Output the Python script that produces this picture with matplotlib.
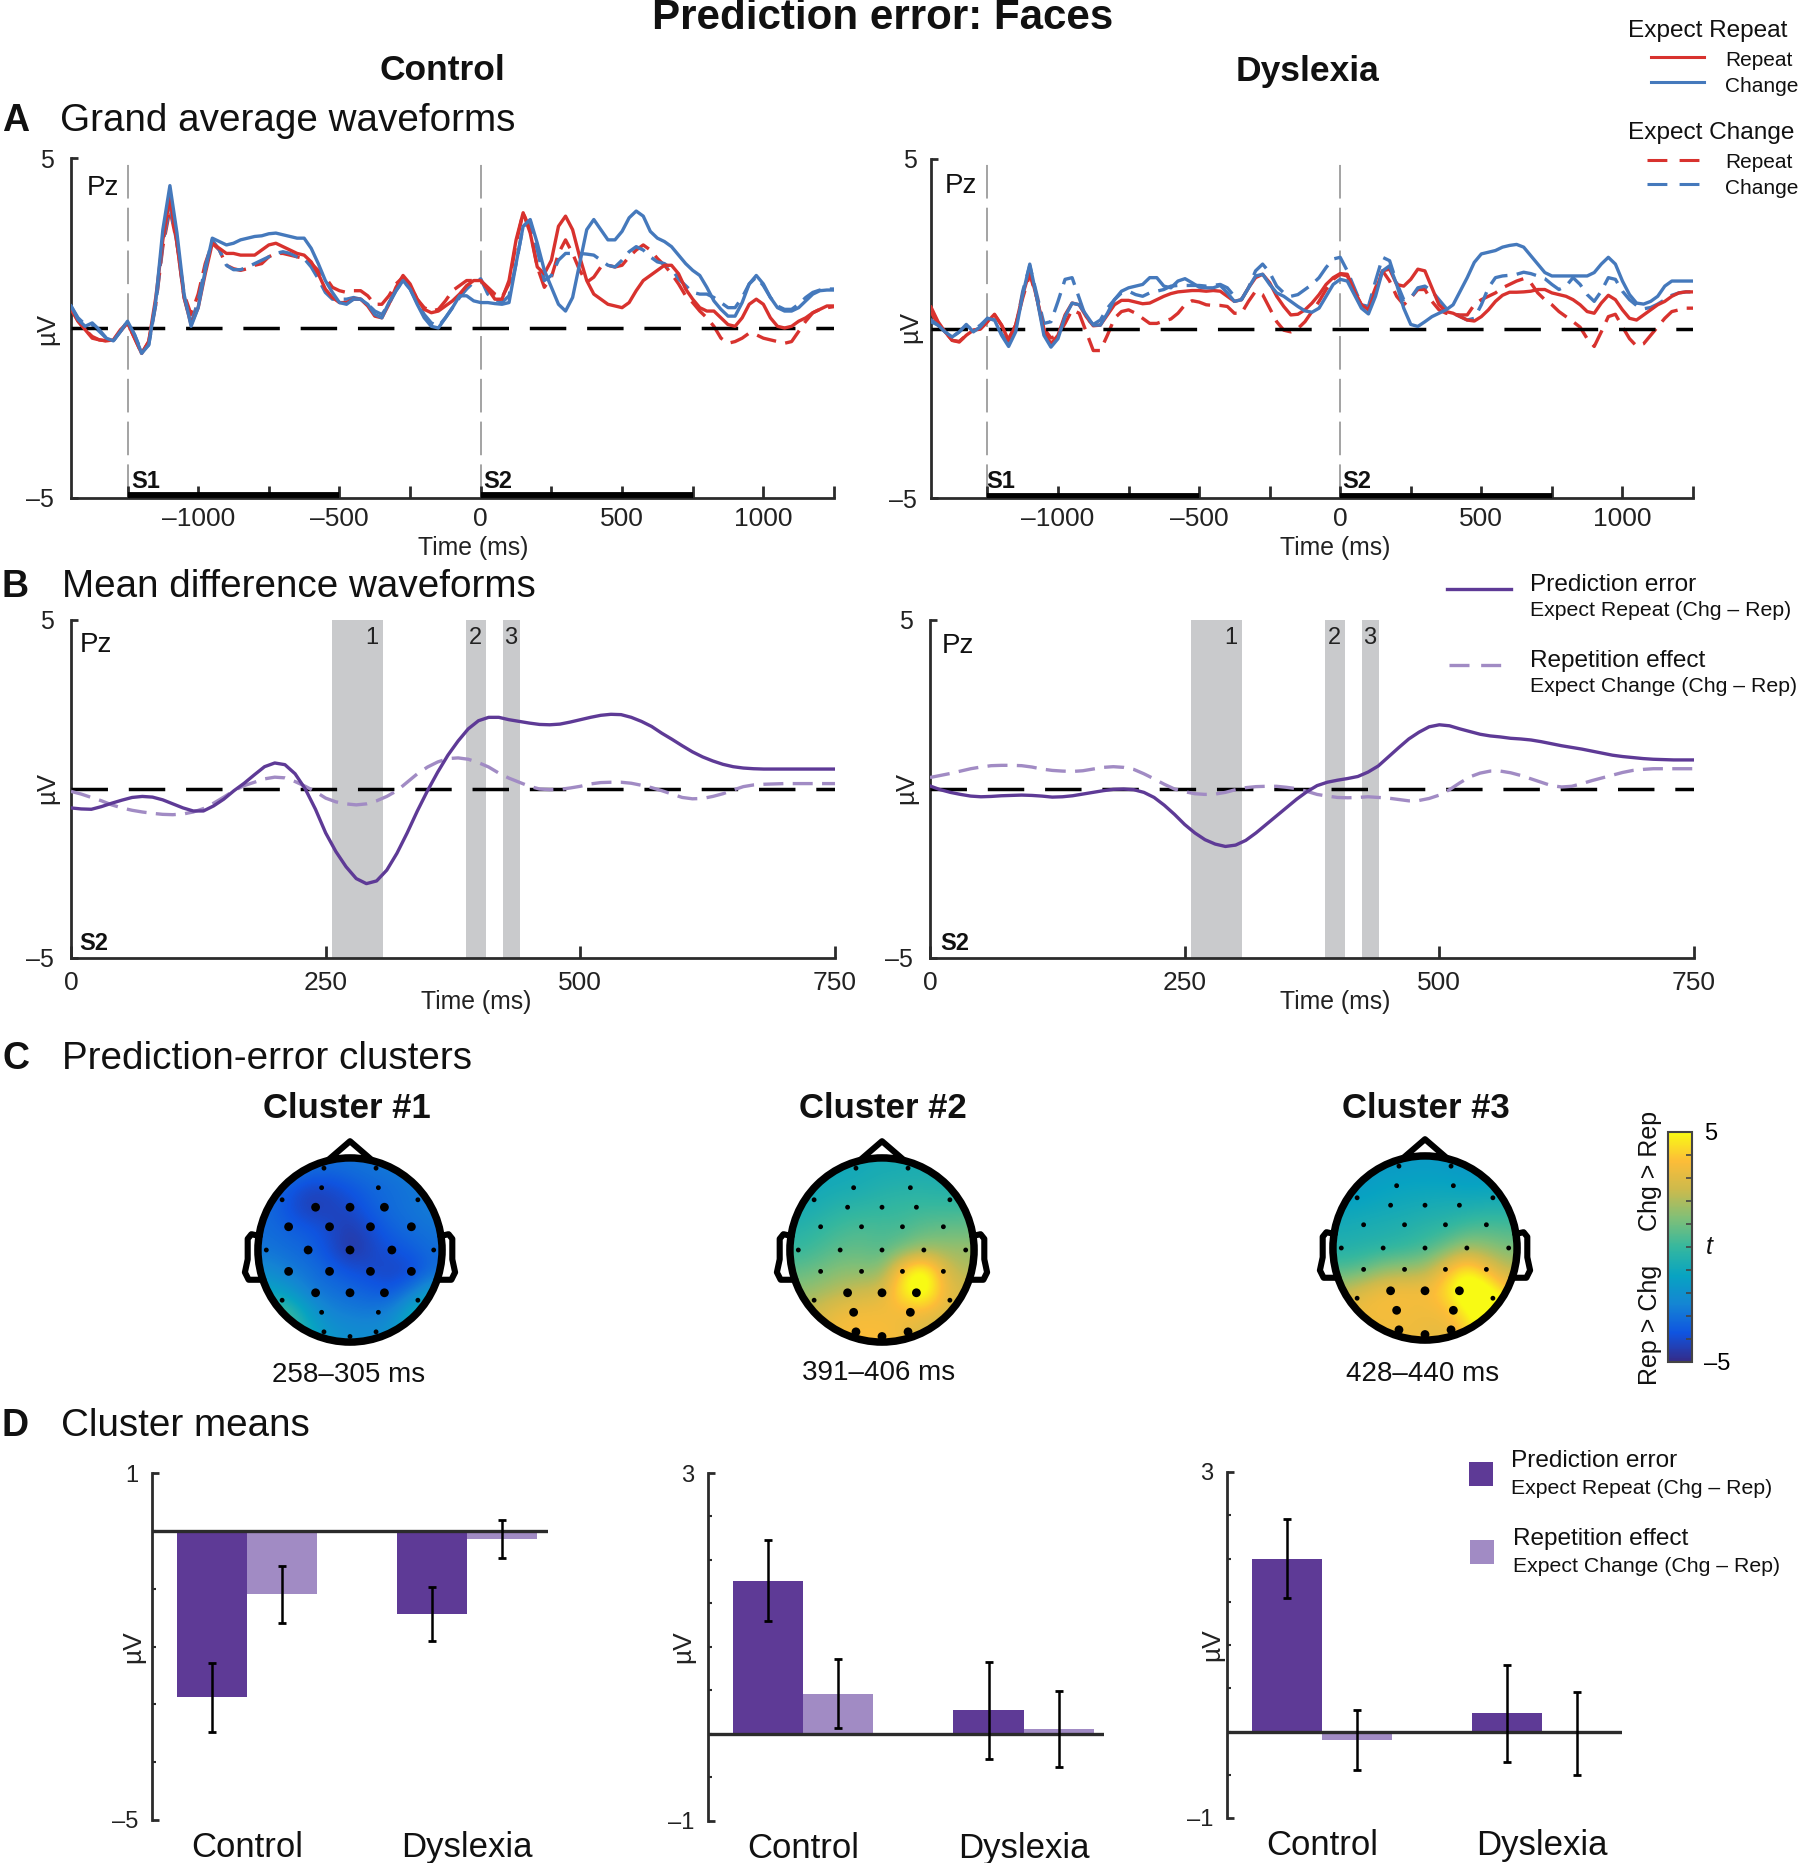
import numpy as np
import matplotlib
matplotlib.use("Agg")
import matplotlib.pyplot as plt
from matplotlib.colors import LinearSegmentedColormap
from matplotlib.patches import Circle, Rectangle
from matplotlib.cm import ScalarMappable
from matplotlib.colors import Normalize
from matplotlib.ticker import MultipleLocator

plt.rcParams['font.family'] = ['Liberation Sans', 'DejaVu Sans']
W, H = 1800, 1863

# ------------------ DATA ------------------
time_a = np.arange(-1450, 1251, 25)
ctl_exp_rep_rep = [
 0.6,0.2,-0.05,-0.3,-0.35,-0.38,-0.35,-0.05,0.15,-0.3,
 -0.75,-0.4,0.9,2.6,3.85,2.5,0.9,0.1,0.6,1.6,
 2.5,2.35,2.2,2.2,2.15,2.15,2.15,2.3,2.45,2.5,
 2.4,2.3,2.2,2.15,1.95,1.6,1.15,0.9,0.75,0.75,
 0.85,0.85,0.65,0.35,0.3,0.7,1.2,1.55,1.3,0.85,
 0.55,0.45,0.5,0.65,0.8,1.0,1.25,1.4,1.4,1.15,
 0.85,0.85,1.4,2.6,3.4,2.8,1.8,1.6,2.0,3.0,
 3.3,2.9,2.1,1.4,1.0,0.85,0.7,0.65,0.6,0.75,
 1.1,1.4,1.55,1.7,1.85,1.85,1.6,1.15,0.85,0.6,
 0.5,0.5,0.3,0.1,0.05,0.3,0.7,0.85,0.7,0.3,
 0.05,0,0.05,0.2,0.3,0.45,0.55,0.65,0.65]
ctl_exp_rep_chg = [
 0.65,0.25,0.05,0.15,-0.05,-0.3,-0.38,-0.1,0.2,-0.2,
 -0.75,-0.5,0.8,2.9,4.2,2.8,1.0,0.05,0.6,1.7,
 2.65,2.55,2.45,2.5,2.6,2.65,2.7,2.72,2.78,2.8,
 2.75,2.7,2.65,2.65,2.35,1.9,1.4,1.05,0.75,0.7,
 0.85,0.85,0.7,0.4,0.3,0.75,1.1,1.4,1.15,0.7,
 0.3,0.05,0,0.3,0.6,0.95,0.95,0.8,0.75,0.75,
 0.72,0.7,0.75,1.9,3.0,3.2,2.5,1.7,1.2,0.7,
 0.5,0.9,1.9,2.9,3.2,2.9,2.6,2.6,2.85,3.25,
 3.45,3.3,2.85,2.65,2.55,2.4,2.15,1.9,1.7,1.55,
 1.2,0.8,0.55,0.35,0.35,0.75,1.3,1.55,1.3,0.9,
 0.6,0.5,0.5,0.6,0.8,1.0,1.1,1.12,1.12]
ctl_exp_chg_rep = [
 0.55,0.2,-0.05,-0.25,-0.35,-0.38,-0.35,-0.1,0.15,-0.3,
 -0.75,-0.4,0.7,2.4,3.5,2.5,1.0,0.4,1.0,1.9,
 2.5,2.3,1.85,1.75,1.7,1.75,1.85,1.9,2.1,2.2,
 2.2,2.15,2.1,2.05,1.9,1.7,1.5,1.2,1.1,1.05,
 1.1,1.1,0.95,0.7,0.7,0.95,1.3,1.5,1.25,0.85,
 0.6,0.5,0.55,0.8,1.1,1.25,1.4,1.4,1.4,1.2,
 1.0,0.9,1.3,2.5,3.4,2.9,1.8,1.2,1.5,2.2,
 2.6,2.2,1.7,1.35,1.5,1.8,1.85,1.8,1.85,2.1,
 2.3,2.45,2.3,2.05,1.85,1.6,1.3,0.95,0.75,0.5,
 0.3,0.05,-0.3,-0.45,-0.4,-0.3,-0.15,-0.2,-0.3,-0.35,
 -0.4,-0.45,-0.4,-0.1,0.2,0.45,0.55,0.6,0.63]
ctl_exp_chg_chg = [
 0.65,0.3,0.1,0.1,-0.1,-0.3,-0.38,-0.1,0.2,-0.2,
 -0.7,-0.5,0.7,2.5,3.6,2.5,0.9,0.15,0.8,1.8,
 2.6,2.3,1.85,1.72,1.72,1.8,1.9,2.0,2.1,2.2,
 2.25,2.2,2.1,2.05,1.8,1.45,1.05,0.85,0.85,0.85,
 0.9,0.85,0.7,0.5,0.4,0.7,1.1,1.4,1.15,0.75,
 0.4,0.15,0.05,0.3,0.6,0.9,1.15,1.35,1.45,1.0,
 0.85,0.75,0.95,1.9,3.0,3.15,2.3,1.4,1.55,2.0,
 2.2,2.2,2.2,2.18,2.15,2.0,1.85,1.8,2.0,2.25,
 2.4,2.3,2.1,1.95,1.9,1.75,1.45,1.25,1.05,1.0,
 1.0,0.9,0.75,0.6,0.6,0.9,1.3,1.5,1.25,0.9,
 0.65,0.55,0.55,0.7,0.9,1.05,1.12,1.15,1.15]

dys_exp_rep_rep = [
 0.63,0.2,-0.1,-0.35,-0.4,-0.2,-0.05,-0.02,0.2,0.42,
 0.1,-0.35,0.1,1.0,1.7,0.9,-0.1,-0.45,-0.2,0.4,
 0.75,0.7,0.35,0.08,0.1,0.4,0.7,0.83,0.83,0.78,
 0.73,0.75,0.85,0.95,1.03,1.08,1.1,1.12,1.12,1.1,
 1.12,1.1,0.95,0.8,0.85,1.2,1.5,1.6,1.35,0.95,
 0.65,0.4,0.42,0.55,0.75,1.0,1.3,1.5,1.62,1.6,
 1.1,0.7,0.55,1.1,1.7,1.75,1.3,1.25,1.45,1.75,
 1.7,1.2,0.7,0.5,0.45,0.35,0.25,0.22,0.35,0.55,
 0.8,0.98,1.07,1.07,1.08,1.1,1.15,1.15,1.05,1.0,
 0.95,0.85,0.7,0.5,0.45,0.75,0.98,0.85,0.55,0.3,
 0.25,0.4,0.55,0.7,0.8,0.95,1.05,1.08,1.08]
dys_exp_rep_chg = [
 0.25,0.1,-0.1,-0.25,-0.1,0.12,-0.1,0.05,0.3,0.25,
 -0.2,-0.53,-0.1,1.0,1.9,0.9,-0.2,-0.55,-0.3,0.35,
 0.75,0.7,0.4,0.1,0.1,0.45,0.85,1.1,1.2,1.25,
 1.3,1.5,1.5,1.25,1.2,1.4,1.47,1.35,1.22,1.2,
 1.2,1.27,1.05,0.8,0.85,1.2,1.55,1.6,1.3,1.05,
 0.95,0.8,0.65,0.52,0.48,0.6,0.95,1.3,1.45,1.4,
 1.0,0.6,0.43,0.95,1.7,1.85,1.3,0.6,0.12,0.06,
 0.2,0.35,0.45,0.55,0.7,1.1,1.5,1.95,2.2,2.25,
 2.3,2.4,2.45,2.48,2.4,2.15,1.9,1.65,1.55,1.55,
 1.55,1.55,1.55,1.55,1.65,1.9,2.1,1.9,1.4,1.0,
 0.75,0.72,0.8,0.95,1.25,1.4,1.4,1.4,1.4]
dys_exp_chg_rep = [
 0.5,0.1,-0.1,-0.35,-0.38,-0.2,-0.05,0,0.2,0.4,
 0.1,-0.3,0.1,0.9,1.6,0.9,0,-0.28,-0.2,0.15,
 0.55,0.45,-0.1,-0.65,-0.65,-0.2,0.3,0.5,0.55,0.45,
 0.3,0.15,0.15,0.22,0.28,0.45,0.7,0.82,0.78,0.7,
 0.68,0.68,0.65,0.45,0.45,0.8,1.1,1.0,0.6,0.2,
 -0.05,-0.1,0.0,0.2,0.5,0.8,1.15,1.45,1.6,1.55,
 1.1,0.7,0.65,1.2,1.7,1.4,0.95,0.7,0.9,1.15,
 1.15,0.8,0.55,0.45,0.42,0.4,0.4,0.7,0.85,0.95,
 1.05,1.2,1.3,1.4,1.47,1.35,1.05,0.85,0.7,0.5,
 0.35,0.2,0.04,-0.3,-0.53,-0.1,0.35,0.42,0.05,-0.3,
 -0.52,-0.45,-0.2,0.05,0.3,0.5,0.55,0.6,0.6]
dys_exp_chg_chg = [
 0.2,0.1,-0.1,-0.25,-0.1,0.08,-0.05,0.1,0.3,0.25,
 -0.15,-0.45,0,1.1,1.85,1.0,0.15,0.2,0.8,1.45,
 1.5,0.9,0.3,0.12,0.25,0.6,0.85,1.05,1.1,1.0,
 0.95,1.05,1.1,1.15,1.25,1.27,1.27,1.27,1.27,1.25,
 1.27,1.3,1.2,0.95,0.85,1.2,1.7,1.9,1.65,1.25,
 1.05,0.95,1.0,1.15,1.3,1.5,1.8,2.05,2.1,1.7,
 1.2,0.7,0.65,1.4,2.1,2.0,1.35,0.85,0.9,1.2,
 1.25,1.1,0.85,0.6,0.45,0.35,0.25,0.3,0.7,1.2,
 1.5,1.55,1.57,1.6,1.66,1.62,1.55,1.47,1.3,1.15,
 1.25,1.5,1.3,1.0,0.8,1.1,1.5,1.45,1.1,0.85,
 0.68,0.58,0.62,0.72,0.85,0.98,1.05,1.08,1.08]

time_b = np.arange(0, 751, 10)
ctl_pred_error = [
 -.56,-.59,-.6,-.52,-.42,-.33,-.25,-.22,-.24,-.32,
 -.44,-.56,-.65,-.65,-.5,-.3,-.05,.17,.42,.66,
 .77,.72,.45,0,-.6,-1.3,-1.85,-2.3,-2.65,-2.8,
 -2.72,-2.4,-1.9,-1.3,-.65,-.05,.5,1.0,1.42,1.78,
 2.02,2.12,2.12,2.05,2.0,1.95,1.91,1.9,1.92,1.98,
 2.05,2.12,2.18,2.21,2.2,2.12,2.0,1.85,1.65,1.47,
 1.28,1.1,.95,.83,.73,.66,.62,.6,.59,.59,
 .59,.59,.59,.59,.59,.59]
ctl_rep_effect = [
 -.07,-.15,-.25,-.35,-.47,-.56,-.63,-.68,-.72,-.75,
 -.76,-.74,-.68,-.58,-.42,-.24,-.05,.1,.2,.3,
 .35,.33,.22,.08,-.08,-.27,-.38,-.44,-.47,-.44,
 -.35,-.22,-.05,.2,.45,.65,.8,.9,.92,.88,
 .78,.65,.47,.32,.2,.08,0,-.02,-.01,.03,
 .08,.15,.19,.2,.2,.17,.11,.04,-.05,-.15,
 -.25,-.29,-.28,-.22,-.14,-.03,.07,.12,.14,.15,
 .16,.16,.16,.16,.16,.16]
dys_pred_error = [
 .09,-.02,-.1,-.16,-.21,-.23,-.22,-.2,-.19,-.18,
 -.19,-.21,-.24,-.23,-.2,-.15,-.1,-.05,-.01,0,
 -.02,-.1,-.25,-.48,-.75,-1.05,-1.3,-1.5,-1.63,-1.7,
 -1.66,-1.52,-1.3,-1.05,-.8,-.55,-.3,-.08,.1,.2,
 .26,.31,.37,.5,.68,.95,1.22,1.48,1.68,1.84,
 1.9,1.87,1.78,1.7,1.62,1.57,1.54,1.5,1.48,1.45,
 1.4,1.34,1.28,1.23,1.18,1.12,1.06,1.0,.96,.93,
 .9,.88,.87,.86,.86,.86]
dys_rep_effect = [
 .34,.4,.46,.53,.6,.65,.69,.7,.7,.69,
 .65,.59,.55,.53,.52,.54,.59,.64,.66,.64,
 .58,.45,.3,.14,0,-.08,-.14,-.16,-.15,-.1,
 -.02,.04,.07,.08,.08,.05,.01,-.07,-.16,-.21,
 -.25,-.26,-.25,-.23,-.25,-.27,-.31,-.35,-.34,-.28,
 -.18,-.02,.18,.36,.47,.53,.53,.48,.4,.3,
 .2,.1,.06,.08,.16,.25,.33,.41,.49,.55,
 .58,.6,.6,.6,.6,.6]

cluster_windows = [(256, 306), (388, 407), (424, 441)]
cluster_names = ['1', '2', '3']
cluster_ranges = ['258–305 ms', '391–406 ms', '428–440 ms']

groups = ['Control', 'Dyslexia']
group_pos = [1.0, 3.0]
means_c1_pe, err_c1_pe = [-2.88, -1.44], [0.60, 0.47]
means_c1_re, err_c1_re = [-1.10, -0.14], [0.49, 0.325]
means_c2_pe, err_c2_pe = [1.76, 0.27], [0.465, 0.56]
means_c2_re, err_c2_re = [0.46, 0.055], [0.395, 0.435]
means_c3_pe, err_c3_pe = [2.0, 0.21], [0.46, 0.56]
means_c3_re, err_c3_re = [-0.10, -0.02], [0.35, 0.48]

topo_c1 = [
 [-2.6,-2.6,-3,-3.1,-3,-2.9,-2.8,-2.6,-2.4],
 [-3,-3.6,-4.2,-4.1,-3.7,-3.3,-3.1,-2.9,-2.7],
 [-3.2,-3.8,-4.4,-4.3,-4.1,-3.5,-3.1,-2.9,-2.7],
 [-3.1,-3.4,-3.6,-4,-4.5,-4,-3.4,-3.1,-2.9],
 [-2.9,-3.1,-3.3,-3.9,-4.7,-4.2,-3.8,-3.5,-3.1],
 [-2.2,-2.7,-3,-3.4,-3.8,-4,-4.2,-4.1,-3.2],
 [-1.2,-1.7,-2.7,-3,-3.2,-3.5,-3.7,-2.8,-1.5],
 [0.6,0.2,-1.5,-2.5,-2.7,-2.8,-2.5,-1,0.2],
 [1,.6,-.9,-1.8,-2.1,-2.2,-1.9,-.8,0]]
topo_c2 = [
 [-1,-1,-1,-.9,-.8,-.8,-.7,-.7,-.6],
 [-1,-.9,-.8,-.7,-.5,-.4,-.4,-.5,-.5],
 [-.8,-.6,-.3,-.2,-.1,0,.1,.1,.1],
 [-.4,-.1,.2,.4,.3,.3,.7,.8,.9],
 [0,.3,.7,.8,.5,1.1,1.8,1.7,1.7],
 [.7,1,1.4,1.4,1.4,4.4,5.8,3,2],
 [1.5,1.8,2.2,2.6,2.8,4.8,6,3.4,2.8],
 [2.2,2.8,3.4,3.5,3.5,3.4,3.4,3,2.6],
 [2.8,3.2,3.6,3.7,3.7,3.4,2.8,2.5,2.3]]
topo_c3 = [
 [-1.6,-1.6,-1.6,-1.6,-1.5,-1.6,-1.7,-1.6,-1.5],
 [-1.6,-1.5,-1.3,-1.2,-1.2,-1.2,-1.3,-1.3,-1.2],
 [-1.2,-1.1,-1,-.9,-.8,-.7,-.7,-.6,-.6],
 [-.8,-.7,-.6,-.5,-.3,-.2,.2,.4,.3],
 [-.5,-.4,-.3,-.1,.2,.9,1.8,1.5,1.1],
 [.3,.6,1.4,1.6,1.8,3.4,4.8,3.4,2.2],
 [2.2,2.9,3.5,3.6,3.5,4.4,6.2,5.6,3.6],
 [3.2,3.5,3.6,3.5,3.4,3.6,5,6.4,5.6],
 [3,3.3,3.4,3.4,3.3,3.1,3.8,5.5,5]]
elec_x = [-.28,.28,-.305,.305,-.73,.73,-.37,0,.37,-.66,-.22,.22,.66,
          -.9,-.45,0,.45,.9,-.66,-.22,.22,.66,-.37,0,.37,-.73,.73,-.305,.305,-.28,0,.28]
elec_y = [.88,.88,.67,.67,.54,.54,.46,.46,.46,.25,.25,.25,.25,
          0,0,0,0,0,-.23,-.23,-.23,-.23,-.46,-.46,-.46,-.54,-.54,-.67,-.67,-.88,-.93,-.88]
sig_c1 = [6,7,8,9,10,11,12,14,15,16,18,19,20,21,22,23,24]
sig_c2 = [22,23,24,27,28,29,30,31]
sig_c3 = [22,23,24,27,28,29,30,31]

# ------------------ STYLE ------------------
RED, BLUE = '#D8322E', '#4579BC'
PURPLE, LILAC = '#5E3A96', '#A18BC4'
GREY, AXC = '#C9CACC', '#2B2B2B'
parula = LinearSegmentedColormap.from_list('parula', [
    (0.208,0.166,0.529),(0.06,0.33,0.88),(0.08,0.52,0.83),(0.03,0.64,0.76),
    (0.21,0.72,0.62),(0.50,0.75,0.47),(0.80,0.73,0.30),(0.99,0.74,0.22),(0.976,0.984,0.08)])

fig = plt.figure(figsize=(W/100, H/100), dpi=100, facecolor='white')

def px_axes(x0, y0, x1, y1, **kw):
    return fig.add_axes([x0/W, 1-y1/H, (x1-x0)/W, (y1-y0)/H], **kw)

def base_axes(ax, box, label_x, label_y, ylab_x, ylab_y, ypad):
    x0, y0, x1, y1 = box
    for s in ('top', 'right'):
        ax.spines[s].set_visible(False)
    for s in ('left', 'bottom'):
        ax.spines[s].set_linewidth(2.0)
        ax.spines[s].set_color(AXC)
    ax.set_ylim(-5, 5)
    ax.set_yticks([-5, 5], ['–5', '5'])
    ax.tick_params(axis='y', direction='in', length=5, width=2, color=AXC, labelsize=18, pad=ypad, labelcolor='#222222')
    ax.tick_params(axis='x', direction='in', length=9, width=2, color=AXC, labelsize=19, pad=6.5, labelcolor='#222222')
    ax.set_xlabel('Time (ms)', fontsize=17.8, color='#222222', va='center')
    ax.xaxis.set_label_coords((label_x-x0)/(x1-x0), (y1-label_y)/(y1-y0))
    ax.set_ylabel('µV', fontsize=18.5, color='#222222', va='center')
    ax.yaxis.set_label_coords((ylab_x-x0)/(x1-x0), (y1-ylab_y)/(y1-y0))

def zero_line(ax):
    ax.axhline(0, color='black', lw=2.5, dashes=(10.5, 6), zorder=6)

def panel_a(box, rr, rc, cr, cc, lx, ylx, yly, ypad):
    ax = px_axes(*box)
    ax.set_xlim(-1450, 1250)
    base_axes(ax, box, lx, 548, ylx, yly, ypad)
    ax.set_xticks(np.arange(-1250, 1251, 250),
                  ['', '–1000', '', '–500', '', '0', '', '500', '', '1000', ''])
    for t0 in (-1250, 0):
        ax.axvline(t0, color='#8A8A8A', lw=1.1, dashes=(22, 6), zorder=1)
        ax.plot([t0, t0+750], [-4.94, -4.94], color='black', lw=4.2, solid_capstyle='butt', zorder=5)
    zero_line(ax)
    kw = dict(lw=2.4, solid_joinstyle='round', dash_joinstyle='round')
    ax.plot(time_a, cr, color=RED, dashes=(6, 2.8), zorder=3, **kw)
    ax.plot(time_a, cc, color=BLUE, dashes=(6, 2.8), zorder=3, **kw)
    ax.plot(time_a, rr, color=RED, zorder=7, **kw)
    ax.plot(time_a, rc, color=BLUE, zorder=8, **kw)
    return ax

def panel_b(box, pe, re, lx, ylx, yly, ypad):
    ax = px_axes(*box)
    ax.set_xlim(0, 750)
    base_axes(ax, box, lx, 1002, ylx, yly, ypad)
    ax.set_xticks([0, 250, 500, 750], ['0', '250', '500', '750'])
    ax.tick_params(axis='x', pad=9.5)
    for (a, b), n, tx in zip(cluster_windows, cluster_names, (295, 397, 432)):
        ax.axvspan(a, b, color=GREY, lw=0, zorder=1)
        ax.text(tx, 4.47, n, ha='center', va='center', fontsize=17, color='#222222', zorder=9)
    zero_line(ax)
    kw = dict(lw=2.4, solid_joinstyle='round', dash_joinstyle='round')
    ax.plot(time_b, re, color=LILAC, dashes=(6, 2.8), zorder=7, **kw)
    ax.plot(time_b, pe, color=PURPLE, zorder=8, **kw)
    return ax

BOX_A_L = (71, 158.5, 834, 497.5)
BOX_A_R = (931, 159, 1693, 498)
BOX_B_L = (71, 620, 835, 958)
BOX_B_R = (930, 620, 1694, 958)
panel_a(BOX_A_L, ctl_exp_rep_rep, ctl_exp_rep_chg, ctl_exp_chg_rep, ctl_exp_chg_chg, 473, 47, 329, 12)
panel_a(BOX_A_R, dys_exp_rep_rep, dys_exp_rep_chg, dys_exp_chg_rep, dys_exp_chg_chg, 1335, 910, 327, 10)
panel_b(BOX_B_L, ctl_pred_error, ctl_rep_effect, 476, 47, 788, 12)
panel_b(BOX_B_R, dys_pred_error, dys_rep_effect, 1335, 906, 788, 12)

# ---- heads ----
def head(cx, cy, grid, sig):
    r = 120.9
    ax = px_axes(cx-r, cy-r, cx+r, cy+r)
    ax.set_xlim(-1.3, 1.3); ax.set_ylim(-1.3, 1.3); ax.axis('off')
    im = ax.imshow(np.array(grid), extent=(-1, 1, -1, 1), origin='upper', cmap=parula,
                   vmin=-5, vmax=5, interpolation='bicubic', aspect='equal', zorder=1)
    ax.set_xlim(-1.3, 1.3); ax.set_ylim(-1.3, 1.3)
    circ = Circle((0, 0), .99, transform=ax.transData)
    im.set_clip_path(circ)
    ax.add_patch(Circle((0, 0), .99, fill=False, ec='black', lw=5.4, zorder=4))
    kw = dict(color='black', lw=4.4, solid_joinstyle='round', solid_capstyle='round', zorder=3)
    ax.plot([-.22, 0, .22], [.98, 1.17, .98], **kw)
    ax.plot([-.97, -1.06, -1.1, -1.1, -1.13, -1.09, -.93], [.15, .17, .12, -.1, -.24, -.32, -.32], **kw)
    ax.plot([.97, 1.06, 1.1, 1.1, 1.13, 1.09, .93], [.15, .17, .12, -.1, -.24, -.32, -.32], **kw)
    sizes = [40 if i in sig else 12 for i in range(len(elec_x))]
    ax.scatter(elec_x, elec_y, s=sizes, c='black', linewidths=0, zorder=5)

head(350, 1250, topo_c1, sig_c1)
head(882, 1250, topo_c2, sig_c2)
head(1425, 1248, topo_c3, sig_c3)

# ---- colorbar ----
cax = px_axes(1668, 1132, 1692, 1362)
cb = fig.colorbar(ScalarMappable(Normalize(-5, 5), parula), cax=cax, ticks=[-5, 5])
cb.ax.set_yticklabels(['–5', '5'])
cb.ax.yaxis.set_minor_locator(MultipleLocator(1))
cb.ax.tick_params(which='both', direction='in', length=4, width=1.2, color='#444444', labelsize=17, pad=9, right=True)
cb.ax.tick_params(which='major', length=0)
cb.outline.set_edgecolor('#444444'); cb.outline.set_linewidth(1.5)

# ---- bars ----
def bars(box, ylim, yt, pe, pe_e, re, re_e, ylx):
    x0, y0, x1, y1 = box
    ax = px_axes(*box)
    ax.set_xlim(0.136, 3.73); ax.set_ylim(*ylim)
    for s in ('top', 'right', 'bottom'):
        ax.spines[s].set_visible(False)
    ax.spines['left'].set_linewidth(2); ax.spines['left'].set_color(AXC)
    w = 0.636
    gp = np.array(group_pos)
    ax.bar(gp-w/2, pe, w, color=PURPLE, zorder=2)
    ax.bar(gp+w/2, re, w, color=LILAC, zorder=2)
    ax.axhline(0, color=AXC, lw=2.4, zorder=3)
    ekw = dict(fmt='none', ecolor='black', elinewidth=1.8, capsize=3, capthick=2, zorder=4)
    ax.errorbar(gp-w/2, pe, yerr=pe_e, **ekw)
    ax.errorbar(gp+w/2, re, yerr=re_e, **ekw)
    ax.set_yticks(ylim, [('–%d' % abs(v)) if v < 0 else str(v) for v in ylim])
    ax.set_yticks(yt, minor=True)
    ax.tick_params(axis='y', which='major', direction='in', length=5, width=2, color=AXC, labelsize=17, pad=10, labelcolor='#222222')
    ax.tick_params(axis='y', which='minor', direction='in', length=3, width=1.5, color=AXC)
    ax.set_xticks(gp, groups)
    ax.tick_params(axis='x', length=0, labelsize=25, pad=8, labelcolor='#111111')
    ax.set_ylabel('µV', fontsize=19, color='#222222', va='center')
    ax.yaxis.set_label_coords((ylx-x0)/(x1-x0), 0.5)

bars((152, 1473, 547.6, 1820), (-5, 1), range(-5, 2), means_c1_pe, err_c1_pe, means_c1_re, err_c1_re, 133)
bars((708, 1473, 1104, 1820.5), (-1, 3), np.arange(-1, 3.1, 0.5), means_c2_pe, err_c2_pe, means_c2_re, err_c2_re, 683)
bars((1227, 1472, 1622, 1818), (-1, 3), np.arange(-1, 3.1, 0.5), means_c3_pe, err_c3_pe, means_c3_re, err_c3_re, 1212)

# ---- overlay in pixel coordinates: titles, labels and legend keys ----
ov = fig.add_axes([0, 0, 1, 1], facecolor='none')
ov.set_xlim(0, W); ov.set_ylim(H, 0); ov.axis('off')
TXT = '#111111'
def T(x, y, s, size, ha='left', weight='normal', **kw):
    ov.text(x, y+3, s, fontsize=size, ha=ha, va='center', fontweight=weight, color=kw.pop('color', TXT), **kw)

T(883, 15, 'Prediction error: Faces', 30.3, 'center', 'bold')
T(442, 68, 'Control', 25.5, 'center', 'bold')
T(1308, 68, 'Dyslexia', 25.5, 'center', 'bold')
for y, L, s, x in [(118, 'A', 'Grand average waveforms', 60), (584, 'B', 'Mean difference waveforms', 62),
                   (1056, 'C', 'Prediction-error clusters', 62), (1423, 'D', 'Cluster means', 61)]:
    T(2, y, L, 27, 'left', 'bold')
    T(x, y, s, 27.8)
for x, s in [(347, 'Cluster #1'), (883, 'Cluster #2'), (1426, 'Cluster #3')]:
    T(x, 1106, s, 25, 'center', 'bold')
for x, y, s in zip((349, 879, 1423), (1372, 1370, 1371), cluster_ranges):
    T(x, y, s, 20, 'center')
for x, y in [(103, 185), (961, 183), (96, 642), (958, 643)]:
    T(x, y, 'Pz', 20, 'center')
for x, s in [(146, 'S1'), (498, 'S2'), (1001, 'S1'), (1357, 'S2')]:
    T(x, 479, s, 17, 'center', 'bold')
T(94, 940, 'S2', 17, 'center', 'bold')
T(955, 941, 'S2', 17, 'center', 'bold')
T(1650, 1168, 'Chg > Rep', 18, 'center', rotation=90)
T(1650, 1322, 'Rep > Chg', 18, 'center', rotation=90)
T(1709, 1244, 't', 18, 'center', style='italic')

T(1628, 28.5, 'Expect Repeat', 17.6)
T(1628, 129.5, 'Expect Change', 17.6)
for y, s in [(58, 'Repeat'), (84, 'Change'), (159, 'Repeat'), (185, 'Change')]:
    T(1725, y, s, 15)
ov.plot([1651, 1704], [57, 57], color=RED, lw=2.2)
ov.plot([1651, 1704], [82, 82], color=BLUE, lw=2.2)
ov.plot([1647, 1699], [159.5, 159.5], color=RED, lw=2.2, dashes=(6.5, 4))
ov.plot([1647, 1699], [184, 184], color=BLUE, lw=2.2, dashes=(6.5, 4))

ov.plot([1447, 1511], [589, 589], color=PURPLE, lw=2.4)
ov.plot([1449, 1511], [665, 665], color=LILAC, lw=2.4, dashes=(6, 3.5))
T(1530, 582, 'Prediction error', 17.6)
T(1530, 607, 'Expect Repeat (Chg – Rep)', 15.3)
T(1530, 658, 'Repetition effect', 17.6)
T(1530, 683, 'Expect Change (Chg – Rep)', 15.3)

ov.add_patch(Rectangle((1468.5, 1462), 24, 24, color=PURPLE, lw=0))
ov.add_patch(Rectangle((1470, 1540), 24, 24, color=LILAC, lw=0))
T(1511, 1458, 'Prediction error', 17.6)
T(1511, 1485, 'Expect Repeat (Chg – Rep)', 15.3)
T(1513, 1536, 'Repetition effect', 17.6)
T(1513, 1563, 'Expect Change (Chg – Rep)', 15.3)

fig.savefig('out.png', dpi=100)
